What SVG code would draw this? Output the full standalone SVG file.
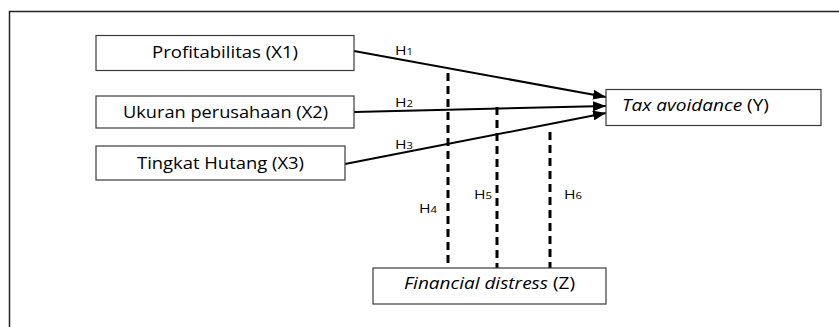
<svg xmlns="http://www.w3.org/2000/svg" width="839" height="327" viewBox="0 0 839 327">
<style>
.box{fill:#fff;stroke:#3a3a3a;stroke-width:1.2}
.t{font-family:"Open Sans","Noto Sans",sans-serif;font-size:16px;fill:#000}
.h{font-family:"Open Sans","Noto Sans",sans-serif;font-size:12.5px;fill:#000}
.sub{font-size:9px}
.arr{stroke:#000;stroke-width:2;fill:none;marker-end:url(#ah)}
.dash{stroke:#000;stroke-width:3;stroke-dasharray:8 5;fill:none}
</style>
<defs>
<marker id="ah" markerUnits="userSpaceOnUse" markerWidth="14" markerHeight="10" refX="13" refY="5" orient="auto">
<path d="M0,0 L13,5 L0,10 Z" fill="#000"/>
</marker>
</defs>
<rect width="839" height="327" fill="#fff"/>
<path d="M9.5,340 V11.5 H845" fill="none" stroke="#222" stroke-width="1.5"/>
<g id="connectors">
<line class="arr" x1="354" y1="51" x2="606" y2="97"/>
<line class="arr" x1="354" y1="112" x2="606" y2="106"/>
<line class="arr" x1="345" y1="164" x2="606" y2="113"/>
<line class="dash" x1="448" y1="73" x2="448" y2="268"/>
<line class="dash" x1="497" y1="107" x2="497" y2="268"/>
<line class="dash" x1="550" y1="132" x2="550" y2="268"/>
<text class="h" x="395" y="55" textLength="18" lengthAdjust="spacingAndGlyphs">H<tspan class="sub">1</tspan></text>
<text class="h" x="395" y="107" textLength="18" lengthAdjust="spacingAndGlyphs">H<tspan class="sub">2</tspan></text>
<text class="h" x="395" y="149" textLength="18" lengthAdjust="spacingAndGlyphs">H<tspan class="sub">3</tspan></text>
<text class="h" x="419" y="213" textLength="18" lengthAdjust="spacingAndGlyphs">H<tspan class="sub">4</tspan></text>
<text class="h" x="474" y="199" textLength="18" lengthAdjust="spacingAndGlyphs">H<tspan class="sub">5</tspan></text>
<text class="h" x="564" y="199" textLength="18" lengthAdjust="spacingAndGlyphs">H<tspan class="sub">6</tspan></text>
</g>
<g id="x1">
<rect class="box" x="96" y="35.5" width="258" height="35"/>
<text class="t" x="225" y="58" text-anchor="middle" textLength="146" lengthAdjust="spacingAndGlyphs">Profitabilitas (X1)</text>
</g>
<g id="x2">
<rect class="box" x="96" y="96" width="258" height="32"/>
<text class="t" x="225.5" y="117.5" text-anchor="middle" textLength="205" lengthAdjust="spacingAndGlyphs">Ukuran perusahaan (X2)</text>
</g>
<g id="x3">
<rect class="box" x="96" y="146" width="249" height="34"/>
<text class="t" x="220.5" y="168.5" text-anchor="middle" textLength="167" lengthAdjust="spacingAndGlyphs">Tingkat Hutang (X3)</text>
</g>
<g id="y">
<rect class="box" x="606" y="89.5" width="215" height="36"/>
<text class="t" x="622" y="111" textLength="147" lengthAdjust="spacingAndGlyphs"><tspan font-style="italic">Tax avoidance</tspan> (Y)</text>
</g>
<g id="z">
<rect class="box" x="373" y="268" width="233" height="36"/>
<text class="t" x="489.5" y="289" text-anchor="middle" textLength="171" lengthAdjust="spacingAndGlyphs"><tspan font-style="italic">Financial distress</tspan> (Z)</text>
</g>
</svg>
